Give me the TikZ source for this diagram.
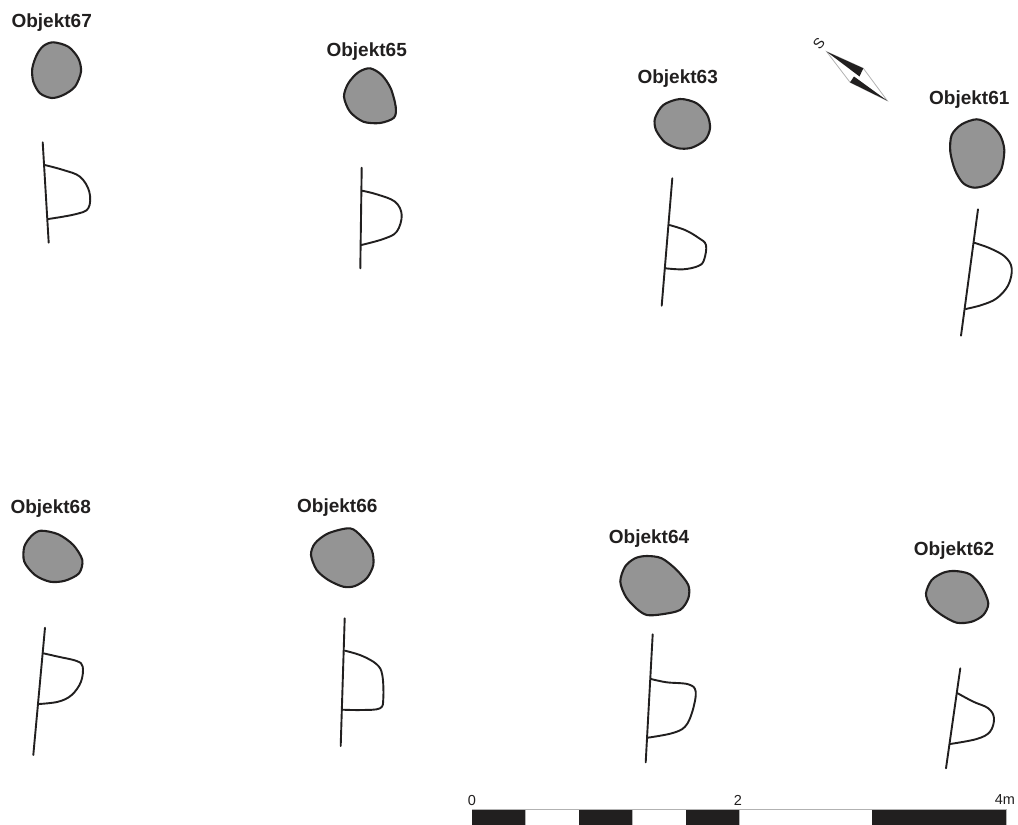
\documentclass[tikz,border=0pt]{standalone}
\usepackage{fontspec}
\setmainfont{Liberation Sans}
\usepackage{xcolor}
\usepackage{tikz}
\definecolor{inkdark}{rgb}{0.13,0.12,0.12}
\definecolor{pitgrey}{rgb}{0.58,0.58,0.58}
\definecolor{rimgrey}{rgb}{0.70,0.70,0.70}

\begin{document}
\begin{tikzpicture}[x=1pt, y=-1pt,
    objlabel/.style={inner sep=0pt, text=inkdark, font=\fontsize{19}{21}\selectfont\bfseries},
    scalelabel/.style={inner sep=0pt, text=inkdark, font=\fontsize{14.5}{16}\selectfont},
    pit/.style={draw=inkdark, line width=2.1pt, fill=pitgrey},
    wall/.style={draw=inkdark, line width=1.9pt, line cap=round},
    profile/.style={draw=inkdark, line width=1.9pt, line cap=round, line join=round},
    barblack/.style={fill=inkdark, draw=none},
    barrim/.style={draw=rimgrey, line width=0.8pt}
]
\useasboundingbox (0,0) rectangle (1018,825);

\node[objlabel] (obj67) at (51.7,22.5) {Objekt67};
\draw[pit] plot[smooth cycle] coordinates {(53.3,42.3) (68.3,46.7) (78.3,58.3) (81,71.7) (75,86.7) (63.3,95) (51.7,98) (40,93.3) (33.3,81.7) (32.3,68.3) (36.7,55) (43.3,46)};
\draw[wall] (42.7,142.3) -- (48.7,242.7);
\draw[profile] plot[smooth, tension=0.6] coordinates {(44.7,165) (63.3,170) (80,176.7) (89.3,191.7) (88.3,208.3) (75,214.3) (48.3,219)};

\node[objlabel] (obj65) at (366.7,51.5) {Objekt65};
\draw[pit] plot[smooth cycle] coordinates {(370,68.3) (381.7,75) (390.7,88.3) (395.7,106.7) (394,117.7) (380,123) (363.3,121.7) (350,111.7) (344,96.7) (348.3,83.3) (358.3,72.3)};
\draw[wall] (361.7,167.7) -- (360.3,268.3);
\draw[profile] plot[smooth, tension=0.6] coordinates {(362,190.7) (376.7,194.3) (395,201.7) (401.7,215) (396.7,231.7) (383.3,239) (361.3,245)};

\node[objlabel] (obj63) at (677.7,79) {Objekt63};
\draw[pit] plot[smooth cycle] coordinates {(680,99) (696.7,103.3) (707.3,115) (710,128.3) (705,140) (691.7,147.7) (678.3,148.3) (665,142.3) (656,130) (655,118.3) (663.3,105)};
\draw[wall] (672.3,178.3) -- (661.7,305.7);
\draw[profile] plot[smooth, tension=0.6] coordinates {(669.3,225) (685,230) (698.3,237.7) (706,245) (704,260) (698.3,266) (683.3,269.3) (665.3,268.3)};

\node[objlabel] (obj61) at (969.3,99.8) {Objekt61};
\draw[pit] plot[smooth cycle] coordinates {(976.7,119.3) (990,124.3) (1000,135) (1004.3,150) (1001,170) (990,183.3) (975,187.7) (963.3,183.3) (955,170) (950.3,151.7) (951.7,135) (961.7,124.3)};
\draw[wall] (978,209.3) -- (961,335.7);
\draw[profile] plot[smooth, tension=0.6] coordinates {(974,242.7) (990,248.3) (1005,256.7) (1011.7,268.3) (1008.3,285) (996.7,298.3) (981.7,305) (965.7,309)};

\node[objlabel] (obj68) at (50.7,508.5) {Objekt68};
\draw[pit] plot[smooth cycle] coordinates {(41,530.7) (58.3,534.3) (73.3,545) (82.3,560) (79,573.3) (65,580.7) (50,581.7) (35,575) (24.3,561.7) (24.3,546.7) (31.7,535.7)};
\draw[wall] (45,627.7) -- (33.3,755);
\draw[profile] plot[smooth, tension=0.6] coordinates {(43.3,653.3) (58.3,656.7) (76.7,661) (82.7,666.7) (81,681.7) (71.7,695) (58.3,701.7) (39,704)};

\node[objlabel] (obj66) at (337.3,507.2) {Objekt66};
\draw[pit] plot[smooth cycle] coordinates {(350,528.3) (361.7,536.7) (371.7,550) (373.3,565) (366.7,578.3) (355,586) (343.3,586.7) (328.3,580) (316.7,570) (311,555) (315,543.3) (328.3,533.3)};
\draw[wall] (344.7,618.3) -- (340.7,746);
\draw[profile] plot[smooth, tension=0.6] coordinates {(345,650.7) (361.7,655.7) (376.7,664.3) (382.3,675) (383.3,698.3) (380,708.3) (361.7,710) (342.3,709.7)};

\node[objlabel] (obj64) at (649,538.5) {Objekt64};
\draw[pit] plot[smooth cycle] coordinates {(646.7,556) (661.7,558.3) (676.7,570) (688.3,585) (688.3,598.3) (680,610) (661.7,614.3) (647,615) (637,609) (626,597) (620.3,581.7) (625,566.7) (635,558.3)};
\draw[wall] (652.7,634.3) -- (645.7,762.3);
\draw[profile] plot[smooth, tension=0.6] coordinates {(651,679) (666.7,682.3) (688.3,684.3) (695.7,691.7) (692.3,711.7) (685,726.7) (671.7,733.3) (647.7,737.7)};

\node[objlabel] (obj62) at (954,550.5) {Objekt62};
\draw[pit] plot[smooth cycle] coordinates {(955,571) (970,574.3) (981.7,586.7) (988.3,603.3) (983.3,615) (971.7,621.7) (956.7,622.7) (941.7,615) (930,605) (926,593.3) (931.7,580) (943.3,572.7)};
\draw[wall] (960.3,668.3) -- (946,768.3);
\draw[profile] plot[smooth, tension=0.6] coordinates {(957.7,693.3) (973.3,701.7) (988.3,708.3) (994,718.3) (990,731.7) (976.7,739) (950,744)};

% compass
\node[scalelabel, rotate=50] (south) at (819,43.3) {S};
\draw[barrim] (826.7,51.7) -- (863.3,68.3) -- (887.3,100.7) -- (850,82.3) -- cycle;
\fill[inkdark] (826.7,51.7) -- (863.3,68.3) -- (859.5,76.5) -- cycle;
\fill[inkdark] (887.3,100.7) -- (850,82.3) -- (854,76.5) -- cycle;

% scale bar
\draw[barrim] (472,825) -- (472,809.5) -- (1006,809.5) -- (1006,825);
\draw[barrim] (525,809.5) -- (525,825) (579,809.5) -- (579,825) (632,809.5) -- (632,825) (686,809.5) -- (686,825) (739,809.5) -- (739,825) (872,809.5) -- (872,825);
\fill[barblack] (472,810) rectangle (525,825);
\fill[barblack] (579,810) rectangle (632,825);
\fill[barblack] (686,810) rectangle (739,825);
\fill[barblack] (872,810) rectangle (1006,825);
\node[scalelabel] (mark0) at (472,800) {0};
\node[scalelabel] (mark2) at (738,800) {2};
\node[scalelabel] (mark4) at (1005,800) {4m};

\end{tikzpicture}
\end{document}
